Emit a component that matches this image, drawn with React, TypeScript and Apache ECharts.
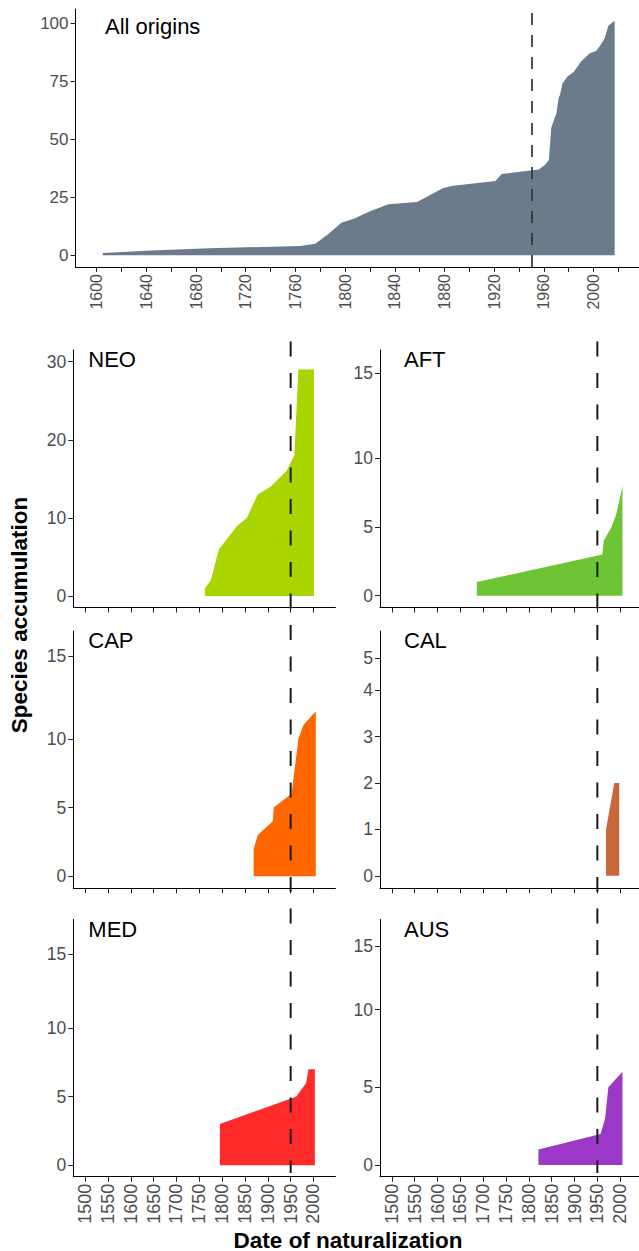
import React, { useEffect, useRef } from "react";
import * as echarts from "echarts";

// ---------- data ----------
const refYear = 1950;

const allYears = [1605, 1640, 1690, 1764, 1776, 1786, 1797, 1808, 1820, 1835, 1858, 1879, 1887, 1921, 1926, 1956, 1961, 1964, 1966, 1970, 1972, 1973, 1975, 1979, 1984, 1990, 1997, 2002, 2005, 2009, 2012, 2017];
const allCounts = [1, 2, 3, 4, 5, 9, 14, 16, 19, 22, 23, 29, 30, 32, 35, 37, 39, 41, 55, 61, 68, 69, 74, 77, 79, 83.5, 87, 88, 90, 93.5, 99, 101];

const neoYears = [1762, 1775, 1793, 1833, 1854, 1878, 1906, 1941, 1958, 1967, 2001];
const neoCounts = [1, 2, 6, 9, 10, 13, 14, 16, 18, 29, 29];

const aftYears = [1686, 1961, 1964, 1981, 1992, 2005];
const aftCounts = [1, 3, 4, 5, 6, 8];

const capYears = [1869, 1878, 1911, 1913, 1952, 1967, 1978, 2005];
const capCounts = [2, 3, 4, 5, 6, 10, 11, 12];

const calYears = [1969, 1987, 1998];
const calCounts = [1, 2, 2];

const medYears = [1795, 1962, 1984, 1989, 2003];
const medCounts = [3, 5, 6, 7, 7];

const ausYears = [1821, 1957, 1967, 1974, 2005];
const ausCounts = [1, 2, 3, 5, 6];

// tick labels
const topTickYears = [1600, 1620, 1640, 1660, 1680, 1700, 1720, 1740, 1760, 1780, 1800, 1820, 1840, 1860, 1880, 1900, 1920, 1940, 1960, 1980, 2000, 2020];
const topLabelYears = [1600, 1640, 1680, 1720, 1760, 1800, 1840, 1880, 1920, 1960, 2000];
const topYTicks = [0, 25, 50, 75, 100];

const panelYears = [1500, 1550, 1600, 1650, 1700, 1750, 1800, 1850, 1900, 1950, 2000];

const neoTickPos = [0, 10, 20, 30];
const neoTickLabels = ["0", "10", "20", "30"];
const aftTickPos = [0, 5, 10, 16.2];
const aftTickLabels = ["0", "5", "10", "15"];
const capTickPos = [0, 5, 10, 16.0];
const capTickLabels = ["0", "5", "10", "15"];
const calTickPos = [0, 1, 2, 3, 4, 4.69];
const calTickLabels = ["0", "1", "2", "3", "4", "5"];
const medTickPos = [0, 5, 10, 15.4];
const medTickLabels = ["0", "5", "10", "15"];
const ausTickPos = [0, 5, 10, 14.1];
const ausTickLabels = ["0", "5", "10", "15"];

// ---------- styling / layout ----------
const FONT = '"Liberation Sans", Arial, Helvetica, sans-serif';
const TICK_COLOR = "#4d4d4d";
const Y_TICK_SIZE = 17.5;
const X_TICK_SIZE = 18;

const panels = [
  { name: "NEO", color: "#A8D400", years: neoYears, counts: neoCounts, yMin: -1.47, yMax: 31.5, tickPos: neoTickPos, tickLabels: neoTickLabels, col: 0, row: 0 },
  { name: "AFT", color: "#6DC535", years: aftYears, counts: aftCounts, yMin: -0.86, yMax: 17.9, tickPos: aftTickPos, tickLabels: aftTickLabels, col: 1, row: 0 },
  { name: "CAP", color: "#FF6600", years: capYears, counts: capCounts, yMin: -0.88, yMax: 17.85, tickPos: capTickPos, tickLabels: capTickLabels, col: 0, row: 1 },
  { name: "CAL", color: "#C8683A", years: calYears, counts: calCounts, yMin: -0.27, yMax: 5.28, tickPos: calTickPos, tickLabels: calTickLabels, col: 1, row: 1 },
  { name: "MED", color: "#FF2A2A", years: medYears, counts: medCounts, yMin: -0.83, yMax: 17.9, tickPos: medTickPos, tickLabels: medTickLabels, col: 0, row: 2 },
  { name: "AUS", color: "#9B38C6", years: ausYears, counts: ausCounts, yMin: -0.75, yMax: 15.8, tickPos: ausTickPos, tickLabels: ausTickLabels, col: 1, row: 2 },
];

const colLeft = [73.3, 380];
const colWidth = 262.1;
const rowTop = [350, 631, 919.5];
const rowHeight = [257.5, 257.3, 257.2];
const labelOffset = [15, 24];

const X_MIN = 1474;
const X_MAX = 2048;

function lookupLabel(pos: number[], labels: string[], v: number) {
  let best = -1;
  let bd = Infinity;
  pos.forEach((p, i) => {
    const d = Math.abs(p - v);
    if (d < bd) {
      bd = d;
      best = i;
    }
  });
  return bd < 1e-6 ? labels[best] : "";
}

function buildOption() {
  const grid: any[] = [];
  const xAxis: any[] = [];
  const yAxis: any[] = [];
  const series: any[] = [];
  const graphic: any[] = [];

  const axisLine = { show: true, onZero: false, lineStyle: { color: "#000", width: 1 } };
  const axisTick = { show: true, length: 5, lineStyle: { color: "#222", width: 1 } };

  // top panel
  grid.push({ left: 75.5, top: 9, width: 564, height: 258, outerBoundsMode: "none" });
  xAxis.push({
    gridIndex: 0,
    type: "value",
    min: 1583,
    max: 2037,
    axisLine,
    axisTick: { ...axisTick, customValues: topTickYears },
    axisLabel: {
      customValues: topLabelYears,
      rotate: 90,
      margin: 7,
      color: TICK_COLOR,
      fontSize: 16,
      fontFamily: FONT,
      formatter: (v: number) => String(v),
    },
    splitLine: { show: false },
  });
  yAxis.push({
    gridIndex: 0,
    type: "value",
    min: -5.05,
    max: 106.1,
    axisLine,
    axisTick: { ...axisTick, customValues: topYTicks },
    axisLabel: {
      customValues: topYTicks,
      margin: 7,
      color: TICK_COLOR,
      fontSize: 17,
      fontFamily: FONT,
      formatter: (v: number) => String(v),
    },
    splitLine: { show: false },
  });
  series.push({
    type: "line",
    xAxisIndex: 0,
    yAxisIndex: 0,
    data: allYears.map((y, i) => [y, allCounts[i]]),
    symbol: "none",
    lineStyle: { width: 0 },
    areaStyle: { color: "#6C7B8B", opacity: 1 },
    silent: true,
    markLine: {
      silent: true,
      symbol: ["none", "none"],
      label: { show: false },
      lineStyle: { type: [12, 10], width: 1.7, color: "#333" },
      data: [{ xAxis: refYear }],
    },
  });
  graphic.push({
    type: "text",
    x: 105,
    y: 26,
    style: { text: "All origins", font: `22px ${FONT}`, fill: "#000", align: "left", verticalAlign: "middle" },
  });

  // facet panels
  panels.forEach((p, k) => {
    const gi = k + 1;
    const isBottom = p.row === 2;
    grid.push({
      left: colLeft[p.col],
      top: rowTop[p.row],
      width: colWidth,
      height: rowHeight[p.row],
      outerBoundsMode: "none",
    });
    xAxis.push({
      gridIndex: gi,
      type: "value",
      min: X_MIN,
      max: X_MAX,
      axisLine,
      axisTick: { ...axisTick, customValues: panelYears },
      axisLabel: {
        show: isBottom,
        customValues: panelYears,
        rotate: 90,
        margin: 7,
        color: TICK_COLOR,
        fontSize: X_TICK_SIZE,
        fontFamily: FONT,
        formatter: (v: number) => String(v),
      },
      splitLine: { show: false },
    });
    yAxis.push({
      gridIndex: gi,
      type: "value",
      min: p.yMin,
      max: p.yMax,
      axisLine,
      axisTick: { ...axisTick, customValues: p.tickPos },
      axisLabel: {
        customValues: p.tickPos,
        margin: 7,
        color: TICK_COLOR,
        fontSize: Y_TICK_SIZE,
        fontFamily: FONT,
        formatter: (v: number) => lookupLabel(p.tickPos, p.tickLabels, v),
      },
      splitLine: { show: false },
    });
    series.push({
      type: "line",
      xAxisIndex: gi,
      yAxisIndex: gi,
      data: p.years.map((y, i) => [y, p.counts[i]]),
      symbol: "none",
      lineStyle: { width: 0 },
      areaStyle: { color: p.color, opacity: 1 },
      silent: true,
    });
    graphic.push({
      type: "text",
      x: colLeft[p.col] + labelOffset[p.col],
      y: rowTop[p.row] + 9.5,
      style: { text: p.name, font: `22px ${FONT}`, fill: "#000", align: "left", verticalAlign: "middle" },
    });
  });

  // overlay grids for the long dashed reference line through all facets
  [0, 1].forEach((c) => {
    const gi = grid.length;
    grid.push({ left: colLeft[c], top: 341.5, width: colWidth, height: 831.5, outerBoundsMode: "none" });
    xAxis.push({ gridIndex: gi, type: "value", min: X_MIN, max: X_MAX, show: false });
    yAxis.push({ gridIndex: gi, type: "value", min: 0, max: 1, show: false });
    series.push({
      type: "line",
      xAxisIndex: gi,
      yAxisIndex: gi,
      data: [
        [refYear, 1],
        [refYear, 0],
      ],
      symbol: "none",
      lineStyle: { type: [15, 16.5], width: 2, color: "#1a1a1a" },
      silent: true,
      z: 10,
    });
  });

  // axis titles
  graphic.push({
    type: "text",
    x: 348,
    y: 1240,
    style: { text: "Date of naturalization", font: `bold 22.5px ${FONT}`, fill: "#000", align: "center", verticalAlign: "middle" },
  });
  graphic.push({
    type: "text",
    x: 19,
    y: 615,
    rotation: Math.PI / 2,
    style: { text: "Species accumulation", font: `bold 22.5px ${FONT}`, fill: "#000", align: "center", verticalAlign: "middle" },
  });

  return {
    animation: false,
    backgroundColor: "#ffffff",
    grid,
    xAxis,
    yAxis,
    series,
    graphic,
  };
}

export default function App() {
  const ref = useRef<HTMLDivElement>(null);
  useEffect(() => {
    if (!ref.current) return;
    const chart = echarts.init(ref.current, undefined, { renderer: "svg" });
    chart.setOption(buildOption() as any);
    return () => chart.dispose();
  }, []);
  return (
    <div
      ref={ref}
      style={{ position: "fixed", left: 0, top: 0, width: 639, height: 1251, background: "#fff" }}
    />
  );
}
